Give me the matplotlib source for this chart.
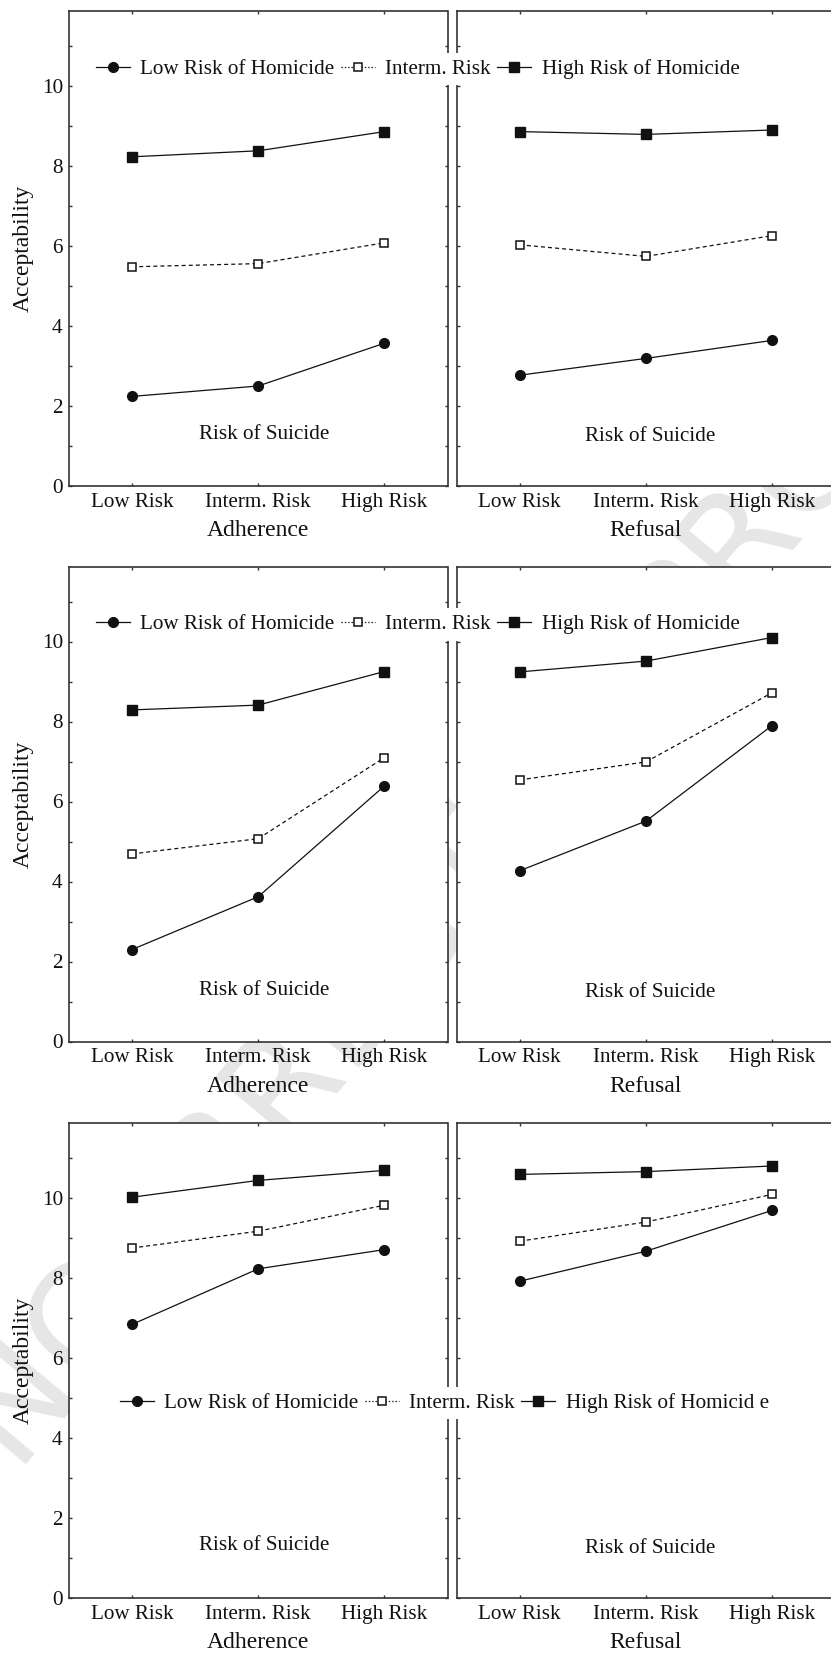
import numpy as np
import matplotlib
matplotlib.use("Agg")
import matplotlib.pyplot as plt
from matplotlib.lines import Line2D

plt.rcParams['font.family'] = ['Liberation Serif', 'DejaVu Serif']
plt.rcParams['lines.scale_dashes'] = False

# data
categories = ['Low Risk', 'Interm. Risk', 'High Risk']
panel_names = ['Adherence', 'Refusal']
series_names = ['Low Risk of Homicide', 'Interm. Risk', 'High Risk of Homicide']
series_names_last = ['Low Risk of Homicide', 'Interm. Risk', 'High Risk of Homicid e']

adh1_low = [2.24, 2.50, 3.57]
adh1_int = [5.48, 5.56, 6.08]
adh1_high = [8.23, 8.38, 8.86]
ref1_low = [2.77, 3.19, 3.64]
ref1_int = [6.03, 5.74, 6.26]
ref1_high = [8.86, 8.79, 8.90]

adh2_low = [2.30, 3.62, 6.39]
adh2_int = [4.69, 5.07, 7.10]
adh2_high = [8.29, 8.41, 9.25]
ref2_low = [4.27, 5.51, 7.90]
ref2_int = [6.54, 6.99, 8.72]
ref2_high = [9.24, 9.51, 10.10]

adh3_low = [6.84, 8.23, 8.71]
adh3_int = [8.75, 9.17, 9.82]
adh3_high = [10.02, 10.44, 10.69]
ref3_low = [7.92, 8.67, 9.69]
ref3_int = [8.92, 9.40, 10.09]
ref3_high = [10.59, 10.66, 10.80]

rows = [
    [(adh1_low, adh1_int, adh1_high), (ref1_low, ref1_int, ref1_high)],
    [(adh2_low, adh2_int, adh2_high), (ref2_low, ref2_int, ref2_high)],
    [(adh3_low, adh3_int, adh3_high), (ref3_low, ref3_int, ref3_high)],
]

W, H = 831, 1654
FS = 15.2
INK = '#111111'

fig = plt.figure(figsize=(W / 100, H / 100), dpi=100)
fig.patch.set_facecolor('white')

# faint watermark, only shows between the panels
fig.text(0.538, 0.455, 'UNCORRECTED PROOF', rotation=50, fontsize=103,
         color='#e6e6e6', ha='center', va='center', zorder=-1,
         family='DejaVu Sans')

row_tops = [11, 566.5, 1123]
panel_h = 475
lefts = [69, 456.7]
panel_w = 378.5
legend_pos = [(96, 69), (96, 624.5), (120, 1403)]

x = np.arange(3)


def draw_panel(ax, low, inter, high, first):
    ax.plot(x, low, color=INK, lw=0.9, marker='o', ms=7.0, mfc=INK, mec=INK)
    ax.plot(x, inter, color=INK, lw=0.9, dashes=(2.9, 2.2), marker='s', ms=6.3,
            mfc='white', mec=INK, mew=1.1)
    ax.plot(x, high, color=INK, lw=0.9, marker='s', ms=7.0, mfc=INK, mec=INK)
    ax.set_xlim(-0.5, 2.5)
    ax.set_ylim(0, 11.875)
    ax.set_facecolor('white')
    for s in ax.spines.values():
        s.set_color('#333333')
        s.set_linewidth(1.2)
    ax.set_xticks(x)
    ax.set_xticklabels(categories, fontsize=FS, color=INK)
    ax.set_yticks(np.arange(0, 11, 2))
    ax.set_yticks(np.arange(1, 12, 2), minor=True)
    ax.tick_params(axis='both', which='both', direction='in', length=2.3,
                   width=1.0, color='#333333', top=True, right=True)
    ax.tick_params(axis='x', pad=5)
    ax.tick_params(axis='y', pad=4.5)
    if first:
        ax.set_yticklabels([str(v) for v in range(0, 11, 2)], fontsize=FS, color=INK)
        ax.set_ylabel('Acceptability', fontsize=17, color=INK)
        ax.yaxis.set_label_coords(-0.094, 0.5)
    else:
        ax.set_yticklabels([])


for r, row in enumerate(rows):
    top = row_tops[r]
    for p, (low, inter, high) in enumerate(row):
        ax = fig.add_axes([lefts[p] / W, 1 - (top + panel_h) / H, panel_w / W, panel_h / H])
        draw_panel(ax, low, inter, high, p == 0)
        ax.set_xlabel(panel_names[p], fontsize=17, color=INK, labelpad=6)
        if p == 0:
            ax.text(1.05, 1.28 if r < 2 else 1.30, 'Risk of Suicide', fontsize=FS,
                    color=INK, ha='center', va='center')
        else:
            ax.text(1.03, 1.23, 'Risk of Suicide', fontsize=FS,
                    color=INK, ha='center', va='center')

    handles = [
        Line2D([], [], color=INK, lw=0.9, marker='o', ms=7.0, mfc=INK, mec=INK),
        Line2D([], [], color=INK, lw=0.9, dashes=(1.0, 1.4), marker='s', ms=6.3,
               mfc='white', mec=INK, mew=1.1),
        Line2D([], [], color=INK, lw=0.9, marker='s', ms=7.0, mfc=INK, mec=INK),
    ]
    names = series_names_last if r == 2 else series_names
    lx, ly = legend_pos[r]
    pad = 0.3
    fig.legend(handles, names, loc='center left',
               bbox_to_anchor=((lx - pad * FS * 100 / 72) / W, 1 - ly / H),
               ncol=3, fontsize=FS, frameon=True, facecolor='white',
               edgecolor='none', framealpha=1, fancybox=False, borderpad=pad,
               borderaxespad=0, handlelength=1.6, handletextpad=0.5,
               columnspacing=0.3, labelcolor=INK)

fig.savefig('out.png', dpi=100, facecolor='white')
